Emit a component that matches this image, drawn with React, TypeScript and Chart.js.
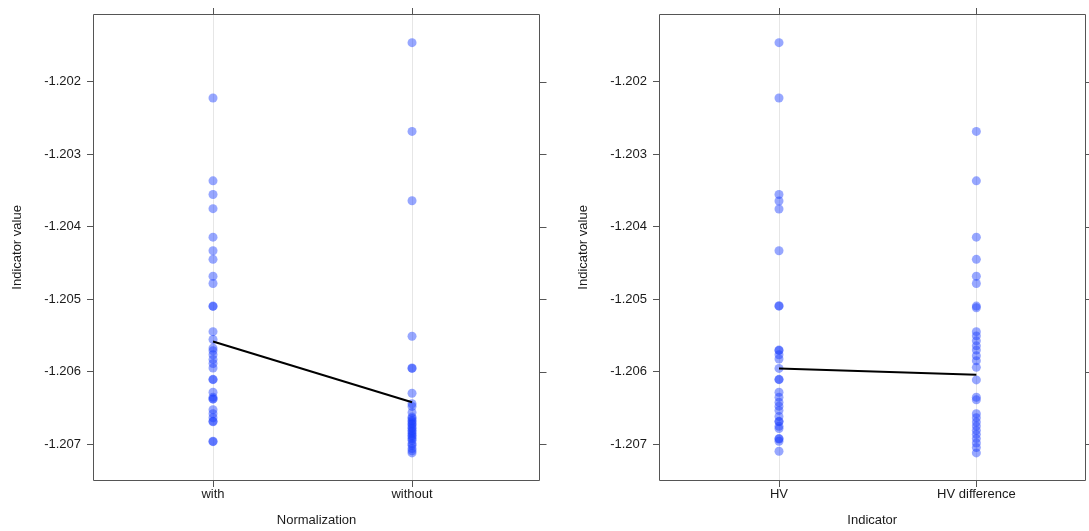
import React, { useEffect, useRef } from "react";
import { Chart, registerables } from "chart.js";

Chart.register(...registerables);

// ---- data -------------------------------------------------------------

const normCategories = ["with", "without"];
const indicatorCategories = ["HV", "HV difference"];

const yTickValues = [-1.202, -1.203, -1.204, -1.205, -1.206, -1.207];

const withValues = [
  -1.202225, -1.203368, -1.203556, -1.203752, -1.204145, -1.204332, -1.204451,
  -1.204685, -1.204785, -1.205096, -1.205101, -1.205449, -1.205558, -1.205676,
  -1.205713, -1.205768, -1.205833, -1.205888, -1.205951, -1.206107, -1.206112,
  -1.206285, -1.206354, -1.206376, -1.206381, -1.206527, -1.206582, -1.206637,
  -1.206687, -1.206692, -1.206962, -1.206967,
];

const withoutValues = [
  -1.201461, -1.202686, -1.203642, -1.205512, -1.205951, -1.205956, -1.206299,
  -1.206444, -1.206481, -1.206564, -1.206628, -1.206646, -1.206674, -1.206694,
  -1.206719, -1.206735, -1.206765, -1.206783, -1.206811, -1.206831, -1.206856,
  -1.206879, -1.2069, -1.206925, -1.206948, -1.206993, -1.207016, -1.207062,
  -1.207092, -1.207122,
];

const hvValues = [
  -1.201461, -1.202225, -1.203556, -1.203646, -1.203756, -1.204332, -1.205092,
  -1.205097, -1.205704, -1.205709, -1.205768, -1.205827, -1.205956, -1.206107,
  -1.206112, -1.206285, -1.206354, -1.206423, -1.206477, -1.206536, -1.206619,
  -1.206687, -1.206692, -1.206756, -1.206787, -1.206925, -1.20693, -1.206962,
  -1.207099,
];

const hvDiffValues = [
  -1.202686, -1.203368, -1.204145, -1.204451, -1.204685, -1.204785, -1.205096,
  -1.205119, -1.205449, -1.205508, -1.205576, -1.205645, -1.205704, -1.205782,
  -1.205851, -1.205942, -1.206115, -1.206354, -1.20639, -1.206582, -1.206637,
  -1.206697, -1.206752, -1.206811, -1.206866, -1.206925, -1.206985, -1.207048,
  -1.207122,
];

// group averages joined by the black line
const normMeans = [-1.205586, -1.206423];
const indicatorMeans = [-1.205956, -1.206043];

// ---- styling ------------------------------------------------------------

const FONT = "'Liberation Sans', Arial, Helvetica, sans-serif";
const FRAME = "#555555";
const TEXT = "#1a1a1a";
const DOT = "rgba(25, 60, 255, 0.45)";

// draws the full box round the panel plus outward ticks on top and right
const framePlugin = {
  id: "panelFrame",
  afterDraw(chart: any) {
    const { ctx, chartArea } = chart;
    const { left, right, top, bottom } = chartArea;
    ctx.save();
    ctx.strokeStyle = FRAME;
    ctx.lineWidth = 1;
    ctx.beginPath();
    ctx.rect(
      Math.round(left) - 0.5,
      Math.round(top) + 0.5,
      Math.round(right) - Math.round(left) + 1,
      Math.round(bottom) - Math.round(top) - 1
    );
    ctx.stroke();
    const ys = chart.scales.y;
    const xs = chart.scales.x;
    ctx.beginPath();
    for (const t of ys.ticks) {
      const py = Math.round(ys.getPixelForValue(t.value)) + 0.5;
      ctx.moveTo(Math.round(right) + 0.5, py);
      ctx.lineTo(Math.round(right) + 7.5, py);
    }
    for (const t of xs.ticks) {
      const px = Math.round(xs.getPixelForValue(t.value)) + 0.5;
      ctx.moveTo(px, Math.round(top) + 0.5);
      ctx.lineTo(px, Math.round(top) - 6);
    }
    ctx.stroke();
    ctx.restore();
  },
};

type PanelProps = {
  left: number;
  width: number;
  padRight: number;
  xMin: number;
  xMax: number;
  categories: string[];
  groupA: number[];
  groupB: number[];
  means: number[];
  xTitle: string;
};

function Panel(props: PanelProps) {
  const ref = useRef<HTMLCanvasElement | null>(null);

  useEffect(() => {
    if (!ref.current) return;
    const { categories, groupA, groupB, means } = props;
    const points = [
      ...groupA.map((v) => ({ x: 1, y: v })),
      ...groupB.map((v) => ({ x: 2, y: v })),
    ];
    const chart = new Chart(ref.current, {
      type: "scatter",
      data: {
        datasets: [
          {
            type: "line",
            data: means.map((v, i) => ({ x: i + 1, y: v })),
            borderColor: "#000000",
            borderWidth: 2,
            pointRadius: 0,
            fill: false,
            order: 0,
          } as any,
          {
            data: points,
            backgroundColor: DOT,
            borderWidth: 0,
            pointRadius: 4.5,
            pointHoverRadius: 4.5,
            order: 1,
          },
        ],
      },
      options: {
        animation: false,
        responsive: false,
        events: [],
        layout: { padding: { left: 0, top: 11, right: props.padRight, bottom: 0 } },
        plugins: { legend: { display: false }, tooltip: { enabled: false } },
        scales: {
          x: {
            type: "linear",
            min: props.xMin,
            max: props.xMax,
            afterBuildTicks: (s: any) => {
              s.ticks = categories.map((_, i) => ({ value: i + 1 }));
            },
            afterFit: (s: any) => {
              s.height = 50;
            },
            grid: {
              color: "#e6e6e6",
              tickColor: FRAME,
              tickLength: 6,
              drawOnChartArea: true,
            },
            border: { display: false },
            ticks: {
              autoSkip: false,
              maxRotation: 0,
              padding: 0,
              color: TEXT,
              font: { family: FONT, size: 13 },
              callback: (v: any) => categories[Number(v) - 1] ?? "",
            },
            title: {
              display: true,
              text: props.xTitle,
              color: TEXT,
              font: { family: FONT, size: 13 },
              padding: { top: 0, bottom: 3 },
            },
          },
          y: {
            type: "linear",
            min: -1.20751,
            max: -1.201063,
            afterBuildTicks: (s: any) => {
              s.ticks = yTickValues.map((v) => ({ value: v }));
            },
            afterFit: (s: any) => {
              s.width = 94;
            },
            grid: {
              drawOnChartArea: false,
              tickColor: FRAME,
              tickLength: 7,
            },
            border: { display: false },
            ticks: {
              padding: 6,
              color: TEXT,
              font: { family: FONT, size: 13 },
              callback: (v: any) => Number(v).toFixed(3),
            },
            title: {
              display: true,
              text: "Indicator value",
              color: TEXT,
              font: { family: FONT, size: 13 },
              padding: { top: 10, bottom: 0 },
            },
          },
        },
      },
      plugins: [framePlugin],
    });
    return () => chart.destroy();
  }, []);

  return (
    <canvas
      ref={ref}
      width={props.width}
      height={531}
      style={{ position: "absolute", left: props.left, top: 0, width: props.width, height: 531 }}
    />
  );
}

export default function App() {
  return (
    <div
      style={{
        position: "absolute",
        left: 0,
        top: 0,
        width: 1089,
        height: 531,
        background: "#ffffff",
        overflow: "hidden",
      }}
    >
      <Panel
        left={0}
        width={560}
        padRight={21}
        xMin={0.402}
        xMax={2.638}
        categories={normCategories}
        groupA={withValues}
        groupB={withoutValues}
        means={normMeans}
        xTitle="Normalization"
      />
      <Panel
        left={566}
        width={523}
        padRight={1}
        xMin={0.397}
        xMax={2.548}
        categories={indicatorCategories}
        groupA={hvValues}
        groupB={hvDiffValues}
        means={indicatorMeans}
        xTitle="Indicator"
      />
    </div>
  );
}
